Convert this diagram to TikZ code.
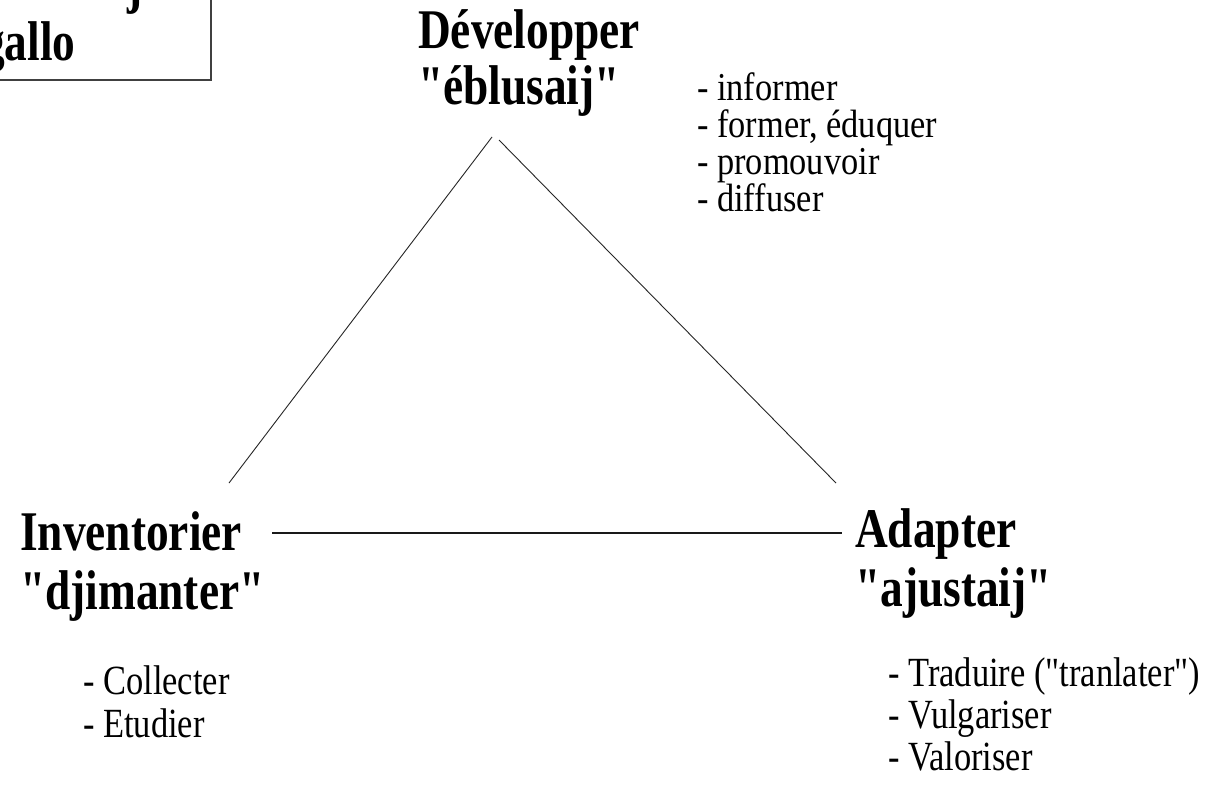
\documentclass[tikz,border=0pt]{standalone}
\usepackage{fontspec}
\newfontfamily\tnrbig[FakeStretch=0.81]{Liberation Serif}
\newfontfamily\tnrsmall[FakeStretch=0.83]{Liberation Serif}
\newfontfamily\tnrtight[FakeStretch=0.87]{Liberation Serif}
\newcommand{\linesat}[2]{\vtop{\baselineskip=#1\lineskiplimit=-\maxdimen\lineskip=0pt #2}}
\begin{document}
\begin{tikzpicture}[x=1pt,y=-1pt,
  big/.style={font=\tnrbig\bfseries\fontsize{56}{57}\selectfont, inner sep=0pt, anchor=base west},
  small/.style={font=\tnrsmall\fontsize{41.5}{42}\selectfont, inner sep=0pt, anchor=base west},
  tight/.style={font=\tnrtight\fontsize{39.5}{37}\selectfont, inner sep=0pt, anchor=base west},
  tri/.style={line width=0.9pt, black!85},
  base/.style={line width=1.6pt, black!90}]
\useasboundingbox (0,0) rectangle (1206,785);
\clip (0,0) rectangle (1206,785);
\fill[white] (0,0) rectangle (1206,785);
% title box (cut off at the top-left corner)
\draw[line width=2pt, black!75] (-10,-10) rectangle (211,80);
\node[big] (boxj) at (127,2) {j};
\node[big] (boxg) at (-18,60) {gallo};
% vertices
\node[big] (dev) at (418,48) {\linesat{56pt}{\hbox{Développer}\hbox{"éblusaij"}}};
\node[tight] (devlist) at (697,100) {\linesat{37pt}{\hbox{- informer}\hbox{- former, éduquer}\hbox{- promouvoir}\hbox{- diffuser}}};
\node[big] (inv) at (20,550) {\linesat{59pt}{\hbox{Inventorier}\hbox{"djimanter"}}};
\node[small] (invlist) at (83,694) {\linesat{43pt}{\hbox{- Collecter}\hbox{- Etudier}}};
\node[big] (ada) at (855,547) {\linesat{59pt}{\hbox{Adapter}\hbox{"ajustaij"}}};
\node[small] (adalist) at (888,686) {\linesat{42pt}{\hbox{- Traduire ("tranlater")}\hbox{- Vulgariser}\hbox{- Valoriser}}};
% connector ends
\coordinate (apexL) at (492,137);
\coordinate (apexR) at (499,140);
\coordinate (invTop) at (229,483);
\coordinate (adaTop) at (836,483);
\coordinate (invRight) at (272,533);
\coordinate (adaLeft) at (842,533);
\draw[tri] (apexL) -- (invTop);
\draw[tri] (apexR) -- (adaTop);
\draw[base] (invRight) -- (adaLeft);
\end{tikzpicture}
\end{document}
